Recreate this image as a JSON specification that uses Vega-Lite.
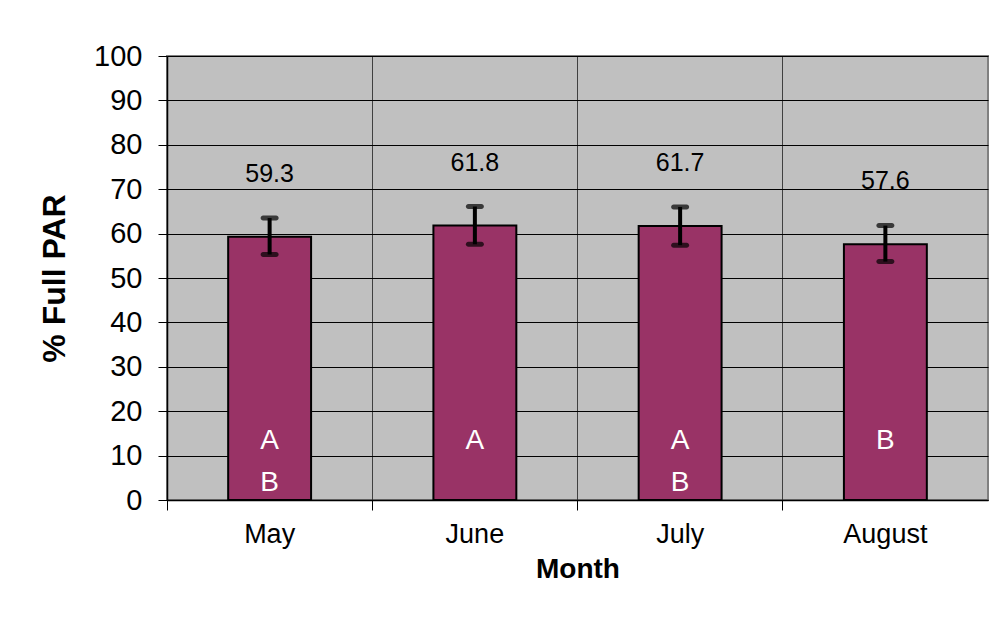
{
  "$schema": "https://vega.github.io/schema/vega-lite/v6.json",
  "width": 821,
  "height": 444,
  "autosize": {"type": "none"},
  "padding": {"left": 167, "top": 56, "right": 10, "bottom": 132},
  "background": "white",
  "config": {
    "view": {"fill": "#C0C0C0", "stroke": "#808080", "strokeWidth": 2},
    "font": "Liberation Sans"
  },
  "data": {
    "values": [
      {"month": "May", "mean": 59.3, "lo": 55.3, "hi": 63.5, "l1": "A", "l2": "B"},
      {"month": "June", "mean": 61.8, "lo": 57.6, "hi": 66.1, "l1": "A", "l2": ""},
      {"month": "July", "mean": 61.7, "lo": 57.4, "hi": 66.0, "l1": "A", "l2": "B"},
      {"month": "August", "mean": 57.6, "lo": 53.7, "hi": 61.8, "l1": "B", "l2": ""}
    ]
  },
  "encoding": {
    "x": {
      "field": "month",
      "type": "nominal",
      "sort": ["May", "June", "July", "August"],
      "scale": {"paddingInner": 0, "paddingOuter": 0},
      "axis": {
        "title": "Month",
        "labelAngle": 0,
        "labelFontSize": 27,
        "labelColor": "black",
        "labelPadding": 11,
        "titleFontSize": 28,
        "titleFontWeight": "bold",
        "titleColor": "black",
        "titlePadding": 8,
        "grid": true,
        "gridColor": "#404040",
        "gridWidth": 1,
        "bandPosition": 0,
        "tickSize": 10,
        "tickColor": "black",
        "domainColor": "black",
        "domainWidth": 1.5
      }
    }
  },
  "layer": [
    {
      "mark": {"type": "bar", "width": {"band": 0.404}, "color": "#993366", "stroke": "black", "strokeWidth": 2},
      "encoding": {
        "y": {
          "field": "mean",
          "type": "quantitative",
          "scale": {"domain": [0, 100], "nice": false},
          "axis": {
            "title": "% Full PAR",
            "values": [0, 10, 20, 30, 40, 50, 60, 70, 80, 90, 100],
            "grid": true,
            "gridColor": "black",
            "gridWidth": 1,
            "tickSize": 9,
            "tickColor": "black",
            "domainColor": "black",
            "domainWidth": 1.5,
            "labelFontSize": 29,
            "labelColor": "black",
            "labelPadding": 16,
            "titleFontSize": 32,
            "titleFontWeight": "bold",
            "titleColor": "black",
            "titlePadding": 22
          }
        }
      }
    },
    {
      "mark": {"type": "rule", "color": "black", "strokeWidth": 4},
      "encoding": {
        "y": {"field": "lo", "type": "quantitative"},
        "y2": {"field": "hi"}
      }
    },
    {
      "mark": {"type": "tick", "color": "black", "size": 18, "thickness": 5, "cornerRadius": 2.5},
      "encoding": {"y": {"field": "lo", "type": "quantitative"}}
    },
    {
      "mark": {"type": "tick", "color": "black", "size": 18, "thickness": 5, "cornerRadius": 2.5},
      "encoding": {"y": {"field": "hi", "type": "quantitative"}}
    },
    {
      "mark": {"type": "text", "fontSize": 25, "color": "black", "dy": -63, "baseline": "middle"},
      "encoding": {
        "y": {"field": "mean", "type": "quantitative"},
        "text": {"field": "mean", "type": "quantitative", "format": ".1f"}
      }
    },
    {
      "mark": {"type": "text", "fontSize": 28, "color": "white", "baseline": "alphabetic"},
      "encoding": {
        "y": {"datum": 11.5},
        "text": {"field": "l1"}
      }
    },
    {
      "mark": {"type": "text", "fontSize": 28, "color": "white", "baseline": "alphabetic"},
      "encoding": {
        "y": {"datum": 2.0},
        "text": {"field": "l2"}
      }
    }
  ]
}
